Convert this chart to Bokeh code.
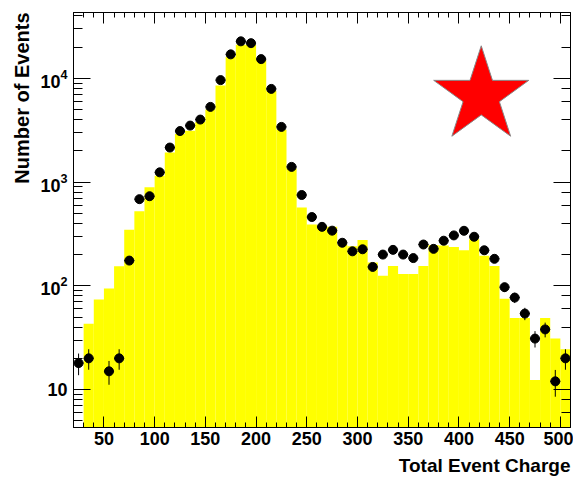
import math
from bokeh.plotting import figure
from bokeh.models import (LinearAxis, LogAxis, Title, ColumnDataSource,
                          SingleIntervalTicker, LogTicker)
from bokeh.embed import file_html
from bokeh.resources import INLINE

# ---- data -------------------------------------------------------------
bin_width = 10
bin_lo = list(range(20, 510, 10))          # lower bin edges 20 ... 500

# simulated expectation (yellow histogram), one value per bin
sim_counts = [0, 43, 74, 94, 154, 347, 522, 891, 1150, 1930,
              2900, 3130, 3800, 5000, 8500, 16000, 21000, 21000, 15000, 7600,
              3200, 1350, 570, 390, 380, 370, 250, 240, 277, 168,
              125, 155, 130, 130, 155, 248, 245, 237, 220, 281,
              195, 155, 75, 49, 49, 12.4, 49, 31, 24.5]

# measured events (black points), None = empty bin
data_counts = [18, 20, None, 15, 20, 175, 684, 730, 1240, 2150,
               3100, 3500, 4000, 5300, 9600, 17000, 22700, 21800, 15300, 7900,
               3400, 1400, 750, 460, 370, 340, 260, 215, 225, 152,
               200, 222, 200, 185, 250, 227, 272, 306, 339, 297,
               220, 182, 97, 77, 54, 31, 38, 12, 20]

x_ticks_interval = 50
x_title = "Total Event Charge"
y_title = "Number of Events"

# decoration: star (position in data units)
star_x = 422
star_y = 6780

# ---- sources ------------------------------------------------------------
h_left = [lo for lo, v in zip(bin_lo, sim_counts) if v > 0]
h_right = [lo + bin_width for lo, v in zip(bin_lo, sim_counts) if v > 0]
h_top = [v for v in sim_counts if v > 0]
hist_src = ColumnDataSource(dict(left=h_left, right=h_right, top=h_top,
                                 bottom=[1] * len(h_top)))

pc, pn = [], []
for lo, v in zip(bin_lo, data_counts):
    if v:
        pc.append(lo + bin_width / 2)
        pn.append(v)
pts_src = ColumnDataSource(dict(
    x=pc, y=pn,
    ylo=[n - math.sqrt(n) for n in pn], yhi=[n + math.sqrt(n) for n in pn],
    xlo=[c - bin_width / 2 for c in pc], xhi=[c + bin_width / 2 for c in pc]))

# ---- figure -------------------------------------------------------------
FONT = "Liberation Sans"
p = figure(width=573, height=480, y_axis_type="log",
           x_range=(20, 510), y_range=(4.31, 43050),
           output_backend="svg", toolbar_location=None,
           min_border_left=73, min_border_right=3,
           min_border_top=12, min_border_bottom=47)
p.xgrid.visible = False
p.ygrid.visible = False
p.outline_line_color = "black"
p.background_fill_color = "white"
p.border_fill_color = "white"

p.quad(left="left", right="right", bottom="bottom", top="top",
       source=hist_src, fill_color="#ffff00", line_color=None)

p.segment(x0="x", y0="ylo", x1="x", y1="yhi", source=pts_src,
          line_color="black", line_width=1)
p.segment(x0="xlo", y0="y", x1="xhi", y1="y", source=pts_src,
          line_color="black", line_width=1)
p.scatter(x="x", y="y", source=pts_src, size=9, fill_color="black",
          line_color="black")

p.scatter(x=[star_x], y=[star_y], marker="star", size=100,
          fill_color="#ff0000", line_color="#888888", line_width=1)

# ---- axes ---------------------------------------------------------------
def style_axis(ax, major_in, minor_in, labels=True):
    ax.major_tick_in = major_in
    ax.major_tick_out = 0
    ax.minor_tick_in = minor_in
    ax.minor_tick_out = 0
    ax.axis_line_color = "black"
    ax.major_tick_line_color = "black"
    ax.minor_tick_line_color = "black"
    if labels:
        ax.major_label_text_font = FONT
        ax.major_label_text_font_style = "bold"
        ax.major_label_text_font_size = "18px"
        ax.major_label_text_color = "black"
    else:
        ax.major_label_text_font_size = "0px"
        ax.major_label_text_alpha = 0
        ax.major_label_standoff = 0

xt = SingleIntervalTicker(interval=x_ticks_interval, num_minor_ticks=5)
p.xaxis.ticker = xt
style_axis(p.xaxis[0], 11, 5)
p.xaxis.major_label_standoff = 4

style_axis(p.yaxis[0], 17, 9)
p.yaxis.major_label_standoff = 6
p.yaxis.major_label_overrides = {10: "10"}

top_ax = LinearAxis(ticker=SingleIntervalTicker(interval=x_ticks_interval,
                                                num_minor_ticks=5))
style_axis(top_ax, 11, 5, labels=False)
p.add_layout(top_ax, "above")

right_ax = LogAxis(ticker=LogTicker())
style_axis(right_ax, 17, 9, labels=False)
p.add_layout(right_ax, "right")

tx = Title(text=x_title, align="right", text_font=FONT, text_color="black",
           text_font_style="bold", text_font_size="19px")
p.add_layout(tx, "below")
ty = Title(text=y_title, align="right", text_font=FONT, text_color="black",
           text_font_style="bold", text_font_size="20px")
p.add_layout(ty, "left")

open("out.html", "w").write(file_html(p, INLINE))
